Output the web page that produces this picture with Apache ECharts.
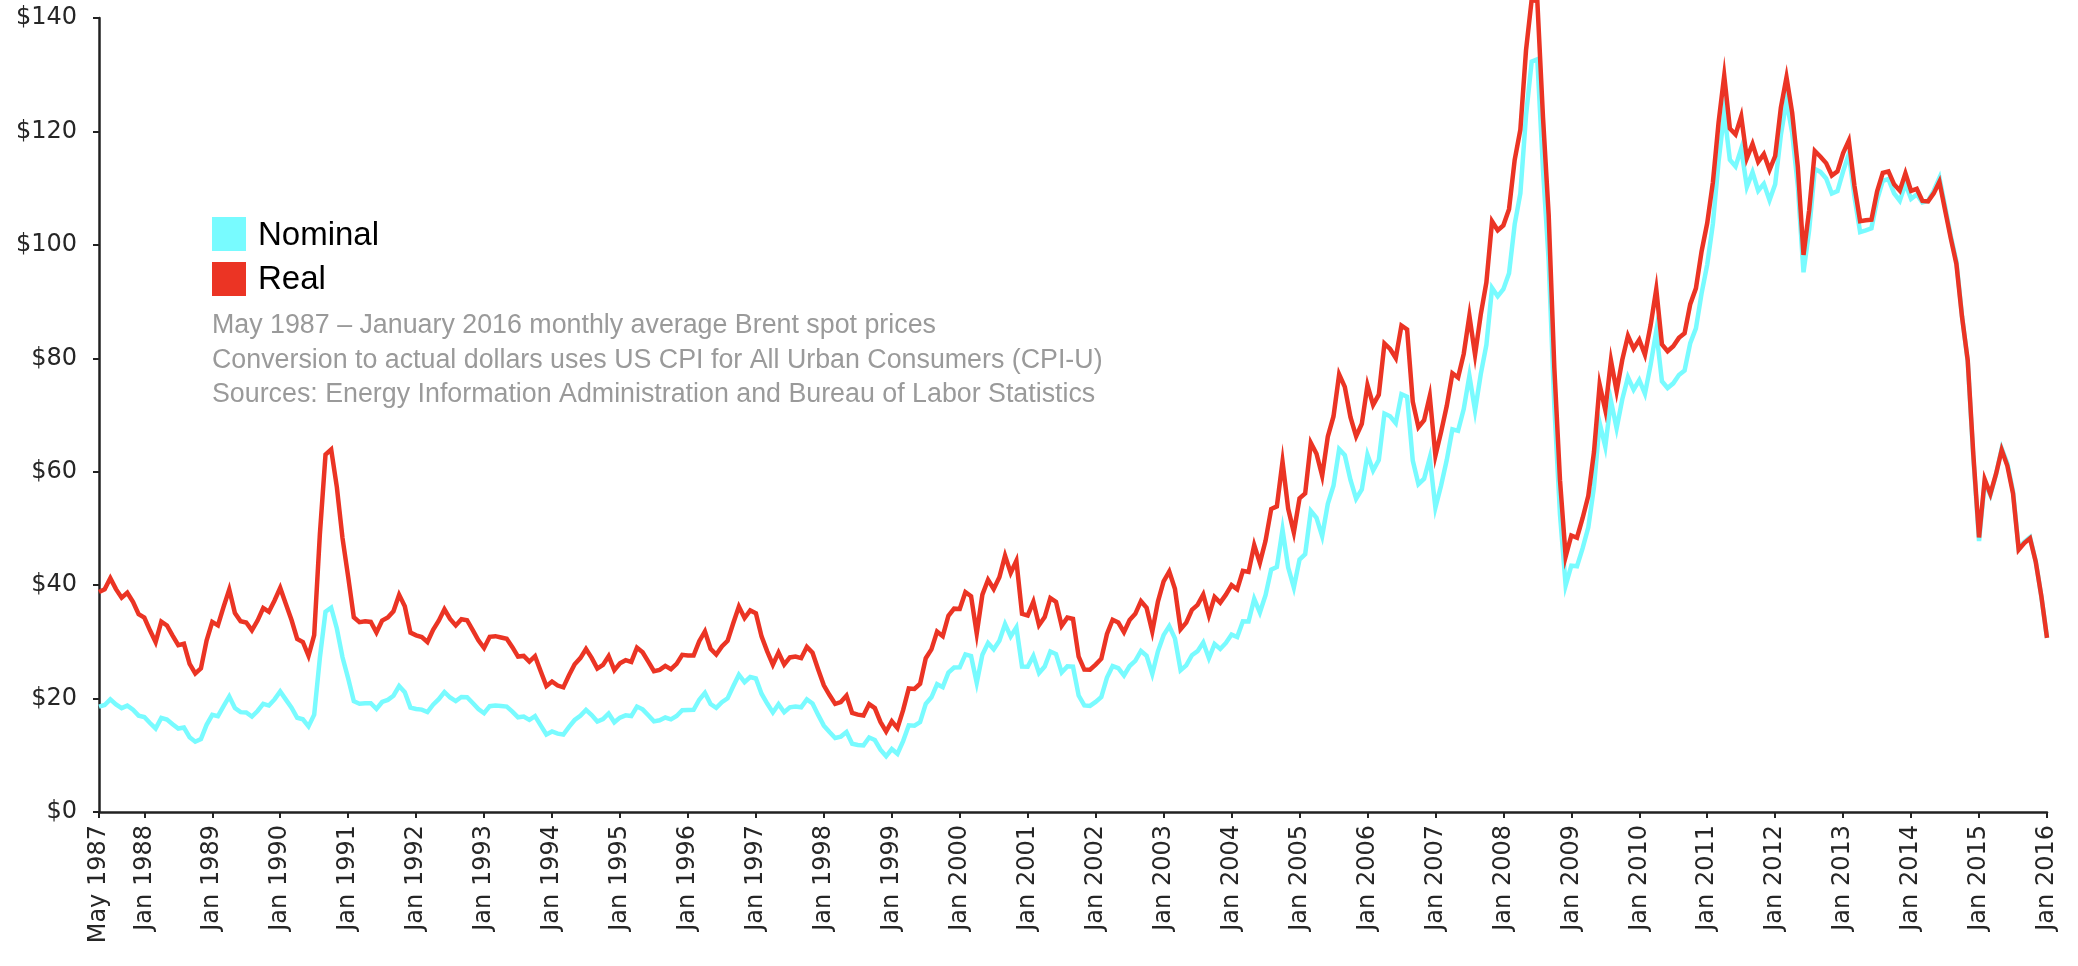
<!DOCTYPE html>
<html>
<head>
<meta charset="utf-8">
<script src="https://cdn.jsdelivr.net/npm/echarts@6/dist/echarts.min.js"></script>
<style>
html,body{margin:0;padding:0;background:#ffffff;}
#chart{width:2078px;height:966px;}
</style>
</head>
<body>
<div id="chart"></div>
<script>
// ---- data ----
const monthNames = ['Jan','Feb','Mar','Apr','May','Jun','Jul','Aug','Sep','Oct','Nov','Dec'];
const categories = [];
for (let y = 1987; y <= 2016; y++) {
  for (let m = 0; m < 12; m++) {
    if (y === 1987 && m < 4) continue;
    if (y === 2016 && m > 0) continue;
    categories.push(monthNames[m] + ' ' + y);
  }
}
const tickLabels = ['May 1987','Jan 1988','Jan 1989','Jan 1990','Jan 1991','Jan 1992','Jan 1993',
  'Jan 1994','Jan 1995','Jan 1996','Jan 1997','Jan 1998','Jan 1999','Jan 2000','Jan 2001',
  'Jan 2002','Jan 2003','Jan 2004','Jan 2005','Jan 2006','Jan 2007','Jan 2008','Jan 2009',
  'Jan 2010','Jan 2011','Jan 2012','Jan 2013','Jan 2014','Jan 2015','Jan 2016'];
const yTicks = [0, 20, 40, 60, 80, 100, 120, 140];

// Nominal Brent monthly average, USD/bbl (May 1987 - Jan 2016)
const nominal = [
  18.58,18.86,19.86,18.98,18.31,18.76,18.05,16.99,
  16.75,15.69,14.73,16.60,16.31,15.49,14.71,14.90,13.20,12.39,12.86,15.37,
  17.13,16.89,18.68,20.38,18.33,17.61,17.55,16.84,17.81,19.06,18.77,19.85,
  21.25,19.81,18.39,16.61,16.35,15.10,17.17,27.17,35.30,36.02,32.36,27.28,
  23.57,19.54,19.08,19.18,19.19,18.17,19.40,19.77,20.50,22.21,21.11,18.41,
  18.16,18.05,17.63,18.92,19.89,21.16,20.19,19.56,20.27,20.24,19.21,18.14,
  17.41,18.66,18.79,18.70,18.59,17.71,16.70,16.82,16.24,16.90,15.27,13.66,
  14.20,13.81,13.66,15.00,16.22,16.95,18.00,17.09,15.95,16.37,17.37,15.81,
  16.64,17.05,16.91,18.59,18.10,17.06,15.98,16.17,16.66,16.33,16.93,17.96,
  17.99,18.03,19.80,21.00,19.03,18.36,19.35,20.04,22.16,24.20,22.90,23.80,
  23.54,20.86,19.13,17.56,19.01,17.59,18.46,18.60,18.46,19.86,19.15,17.12,
  15.23,14.09,13.05,13.30,14.10,12.02,11.83,11.74,13.14,12.69,10.99,9.82,
  11.10,10.27,12.51,15.29,15.23,15.86,19.08,20.22,22.54,22.01,24.58,25.47,
  25.51,27.78,27.49,22.76,27.74,29.80,28.68,30.20,33.14,30.96,32.55,25.66,
  25.62,27.50,24.50,25.66,28.31,27.85,24.61,25.68,25.62,20.54,18.80,18.71,
  19.42,20.28,23.70,25.73,25.35,24.08,25.74,26.65,28.40,27.54,24.34,28.33,
  31.18,32.77,30.61,25.00,25.86,27.65,28.35,29.89,27.11,29.61,28.75,29.81,
  31.28,30.86,33.63,33.59,37.57,35.18,38.22,42.74,43.20,49.78,43.11,39.60,
  44.51,45.48,53.10,51.88,48.65,54.35,57.52,63.98,62.91,58.54,55.24,56.86,
  62.99,60.21,62.06,70.26,69.78,68.56,73.67,73.23,61.96,57.81,58.76,62.47,
  53.68,57.56,62.05,67.49,67.21,71.05,76.93,70.76,77.17,82.34,92.41,90.93,
  92.18,94.99,103.64,109.07,122.80,132.32,132.72,113.24,97.23,71.58,52.45,39.95,
  43.44,43.32,46.54,50.18,57.30,68.61,64.44,72.51,67.65,72.77,76.66,74.46,
  76.17,73.75,78.83,84.82,75.95,74.76,75.58,77.04,77.84,82.67,85.28,91.45,
  96.52,103.72,114.64,123.26,114.99,113.83,116.97,110.22,112.83,109.55,110.77,107.87,
  110.69,119.33,125.45,119.75,110.34,95.16,102.62,113.36,112.86,111.71,109.06,109.49,
  112.96,116.05,108.47,102.25,102.56,102.92,107.93,111.28,111.60,109.08,107.79,110.76,
  108.12,108.90,107.48,107.76,109.54,111.80,106.77,101.61,97.09,87.43,79.44,62.34,
  47.76,58.10,55.89,59.52,64.08,61.48,56.56,46.52,47.62,48.43,44.27,38.01,
  30.70
];

// Real (January 2016 dollars)
const real = [
  38.78,39.26,41.24,39.30,37.78,38.65,37.05,34.88,
  34.30,32.04,29.95,33.58,32.88,31.10,29.41,29.66,26.10,24.42,25.32,30.22,
  33.51,32.90,36.18,39.22,35.08,33.62,33.42,32.02,33.75,35.95,35.32,37.29,
  39.51,36.66,33.85,30.53,29.98,27.54,31.19,48.91,63.02,63.92,57.30,48.30,
  41.48,34.34,33.48,33.61,33.52,31.65,33.74,34.29,35.40,38.29,36.29,31.63,
  31.15,30.85,29.98,32.13,33.73,35.75,34.04,32.89,33.98,33.81,32.05,30.28,
  28.92,30.89,31.00,30.76,30.54,29.06,27.40,27.52,26.52,27.48,24.81,22.19,
  23.01,22.30,21.98,24.11,26.05,27.13,28.74,27.17,25.29,25.94,27.49,25.02,
  26.23,26.77,26.46,28.99,28.17,26.50,24.82,25.05,25.76,25.17,26.11,27.72,
  27.60,27.58,30.13,31.83,28.79,27.76,29.20,30.18,33.27,36.22,34.21,35.55,
  35.05,30.96,28.32,25.97,28.13,26.00,27.25,27.40,27.13,29.12,28.09,25.14,
  22.33,20.62,19.06,19.39,20.52,17.47,17.17,17.02,19.03,18.33,15.88,14.19,
  16.01,14.79,17.96,21.79,21.71,22.61,27.11,28.67,31.80,31.00,34.60,35.85,
  35.80,38.76,38.04,31.48,38.32,40.95,39.32,41.40,45.20,42.15,44.29,34.94,
  34.66,37.06,32.94,34.36,37.74,37.07,32.84,34.27,34.04,27.38,25.11,25.08,
  25.98,27.02,31.40,33.90,33.40,31.71,33.86,34.94,37.17,35.99,31.81,37.10,
  40.65,42.40,39.37,32.22,33.39,35.66,36.52,38.36,34.68,37.92,36.91,38.32,
  40.01,39.26,42.51,42.33,47.07,43.93,47.81,53.43,53.89,61.78,53.47,49.30,
  55.30,56.17,65.08,63.16,59.29,66.20,69.74,77.17,74.97,69.62,66.23,68.45,
  75.25,71.79,73.58,82.60,81.64,80.05,85.76,85.09,72.34,67.86,69.08,73.33,
  62.83,67.01,71.57,77.35,76.59,80.77,87.49,80.63,87.68,93.37,104.15,102.58,
  103.44,106.30,115.00,120.29,134.31,143.26,142.91,122.43,105.27,78.29,58.50,45.02,
  48.75,48.36,51.84,55.76,63.46,75.35,70.87,79.60,74.20,79.74,83.96,81.70,
  83.27,80.62,85.82,92.17,82.46,81.24,82.13,83.60,84.43,89.55,92.33,98.83,
  103.85,111.03,121.52,129.84,120.53,119.47,122.66,115.28,117.80,114.63,116.01,113.22,
  115.67,124.15,129.55,123.29,113.75,98.23,106.11,116.56,115.55,114.41,112.23,112.97,
  116.20,118.39,110.38,104.18,104.32,104.42,109.45,112.70,112.94,110.67,109.55,112.61,
  109.51,109.87,107.75,107.67,109.08,111.14,106.14,101.18,96.64,87.25,79.68,62.89,
  48.41,58.65,56.08,59.60,63.84,61.04,56.14,46.25,47.42,48.25,44.19,38.07,
  30.70
];

const legendNames = ['Nominal', 'Real'];
const noteLines = [
  'May 1987 \u2013 January 2016 monthly average Brent spot prices',
  'Conversion to actual dollars uses US CPI for All Urban Consumers (CPI-U)',
  'Sources: Energy Information Administration and Bureau of Labor Statistics'
];

// ---- styling ----
const CYAN = '#78fbff';
const RED = '#eb3424';
const AXIS = '#222222';
const axisFont = 'DejaVu Sans';
const textFont = 'Liberation Sans, Arial, sans-serif';

const chart = echarts.init(document.getElementById('chart'), null, {renderer: 'canvas'});
const showTick = (i, v) => tickLabels.indexOf(v) !== -1;

const graphics = [
  {type: 'rect', left: 212, top: 217, shape: {width: 34, height: 34}, style: {fill: CYAN}},
  {type: 'rect', left: 212, top: 262, shape: {width: 34, height: 34}, style: {fill: RED}},
  {type: 'text', x: 258, y: 236, style: {text: legendNames[0], fontFamily: textFont, fontSize: 33, fill: '#000', textVerticalAlign: 'middle'}},
  {type: 'text', x: 258, y: 280, style: {text: legendNames[1], fontFamily: textFont, fontSize: 33, fill: '#000', textVerticalAlign: 'middle'}}
];
noteLines.forEach((t, i) => {
  graphics.push({type: 'text', x: 212, y: 326 + i * 34.5,
    style: {text: t, fontFamily: textFont, fontSize: 26.8, fill: '#9a9a9a', textVerticalAlign: 'middle'}});
});

chart.setOption({
  animation: false,
  backgroundColor: '#ffffff',
  grid: {left: 99, right: 31, top: 18, bottom: 154, containLabel: false},
  xAxis: {
    type: 'category',
    data: categories,
    boundaryGap: false,
    axisLine: {show: true, lineStyle: {color: AXIS, width: 2.5}},
    axisTick: {show: true, interval: showTick, length: 6, lineStyle: {color: AXIS, width: 2}},
    axisLabel: {show: true, interval: showTick, rotate: 90, margin: 13,
      fontFamily: axisFont, fontSize: 24, color: '#262626'},
    splitLine: {show: false}
  },
  yAxis: {
    type: 'value',
    min: yTicks[0], max: yTicks[yTicks.length - 1], interval: 20,
    axisLine: {show: true, lineStyle: {color: AXIS, width: 2.5}},
    axisTick: {show: true, length: 6, lineStyle: {color: AXIS, width: 2}},
    axisLabel: {margin: 22, fontFamily: axisFont, fontSize: 24, color: '#262626',
      formatter: v => '$' + v},
    splitLine: {show: false}
  },
  series: [
    {name: legendNames[0], type: 'line', data: nominal, showSymbol: false, symbol: 'none',
      clip: false, lineStyle: {color: CYAN, width: 4.5, join: 'miter'}, itemStyle: {color: CYAN}, z: 2},
    {name: legendNames[1], type: 'line', data: real, showSymbol: false, symbol: 'none',
      clip: false, lineStyle: {color: RED, width: 4.5, join: 'miter'}, itemStyle: {color: RED}, z: 3}
  ],
  graphic: graphics
});
</script>
</body>
</html>
